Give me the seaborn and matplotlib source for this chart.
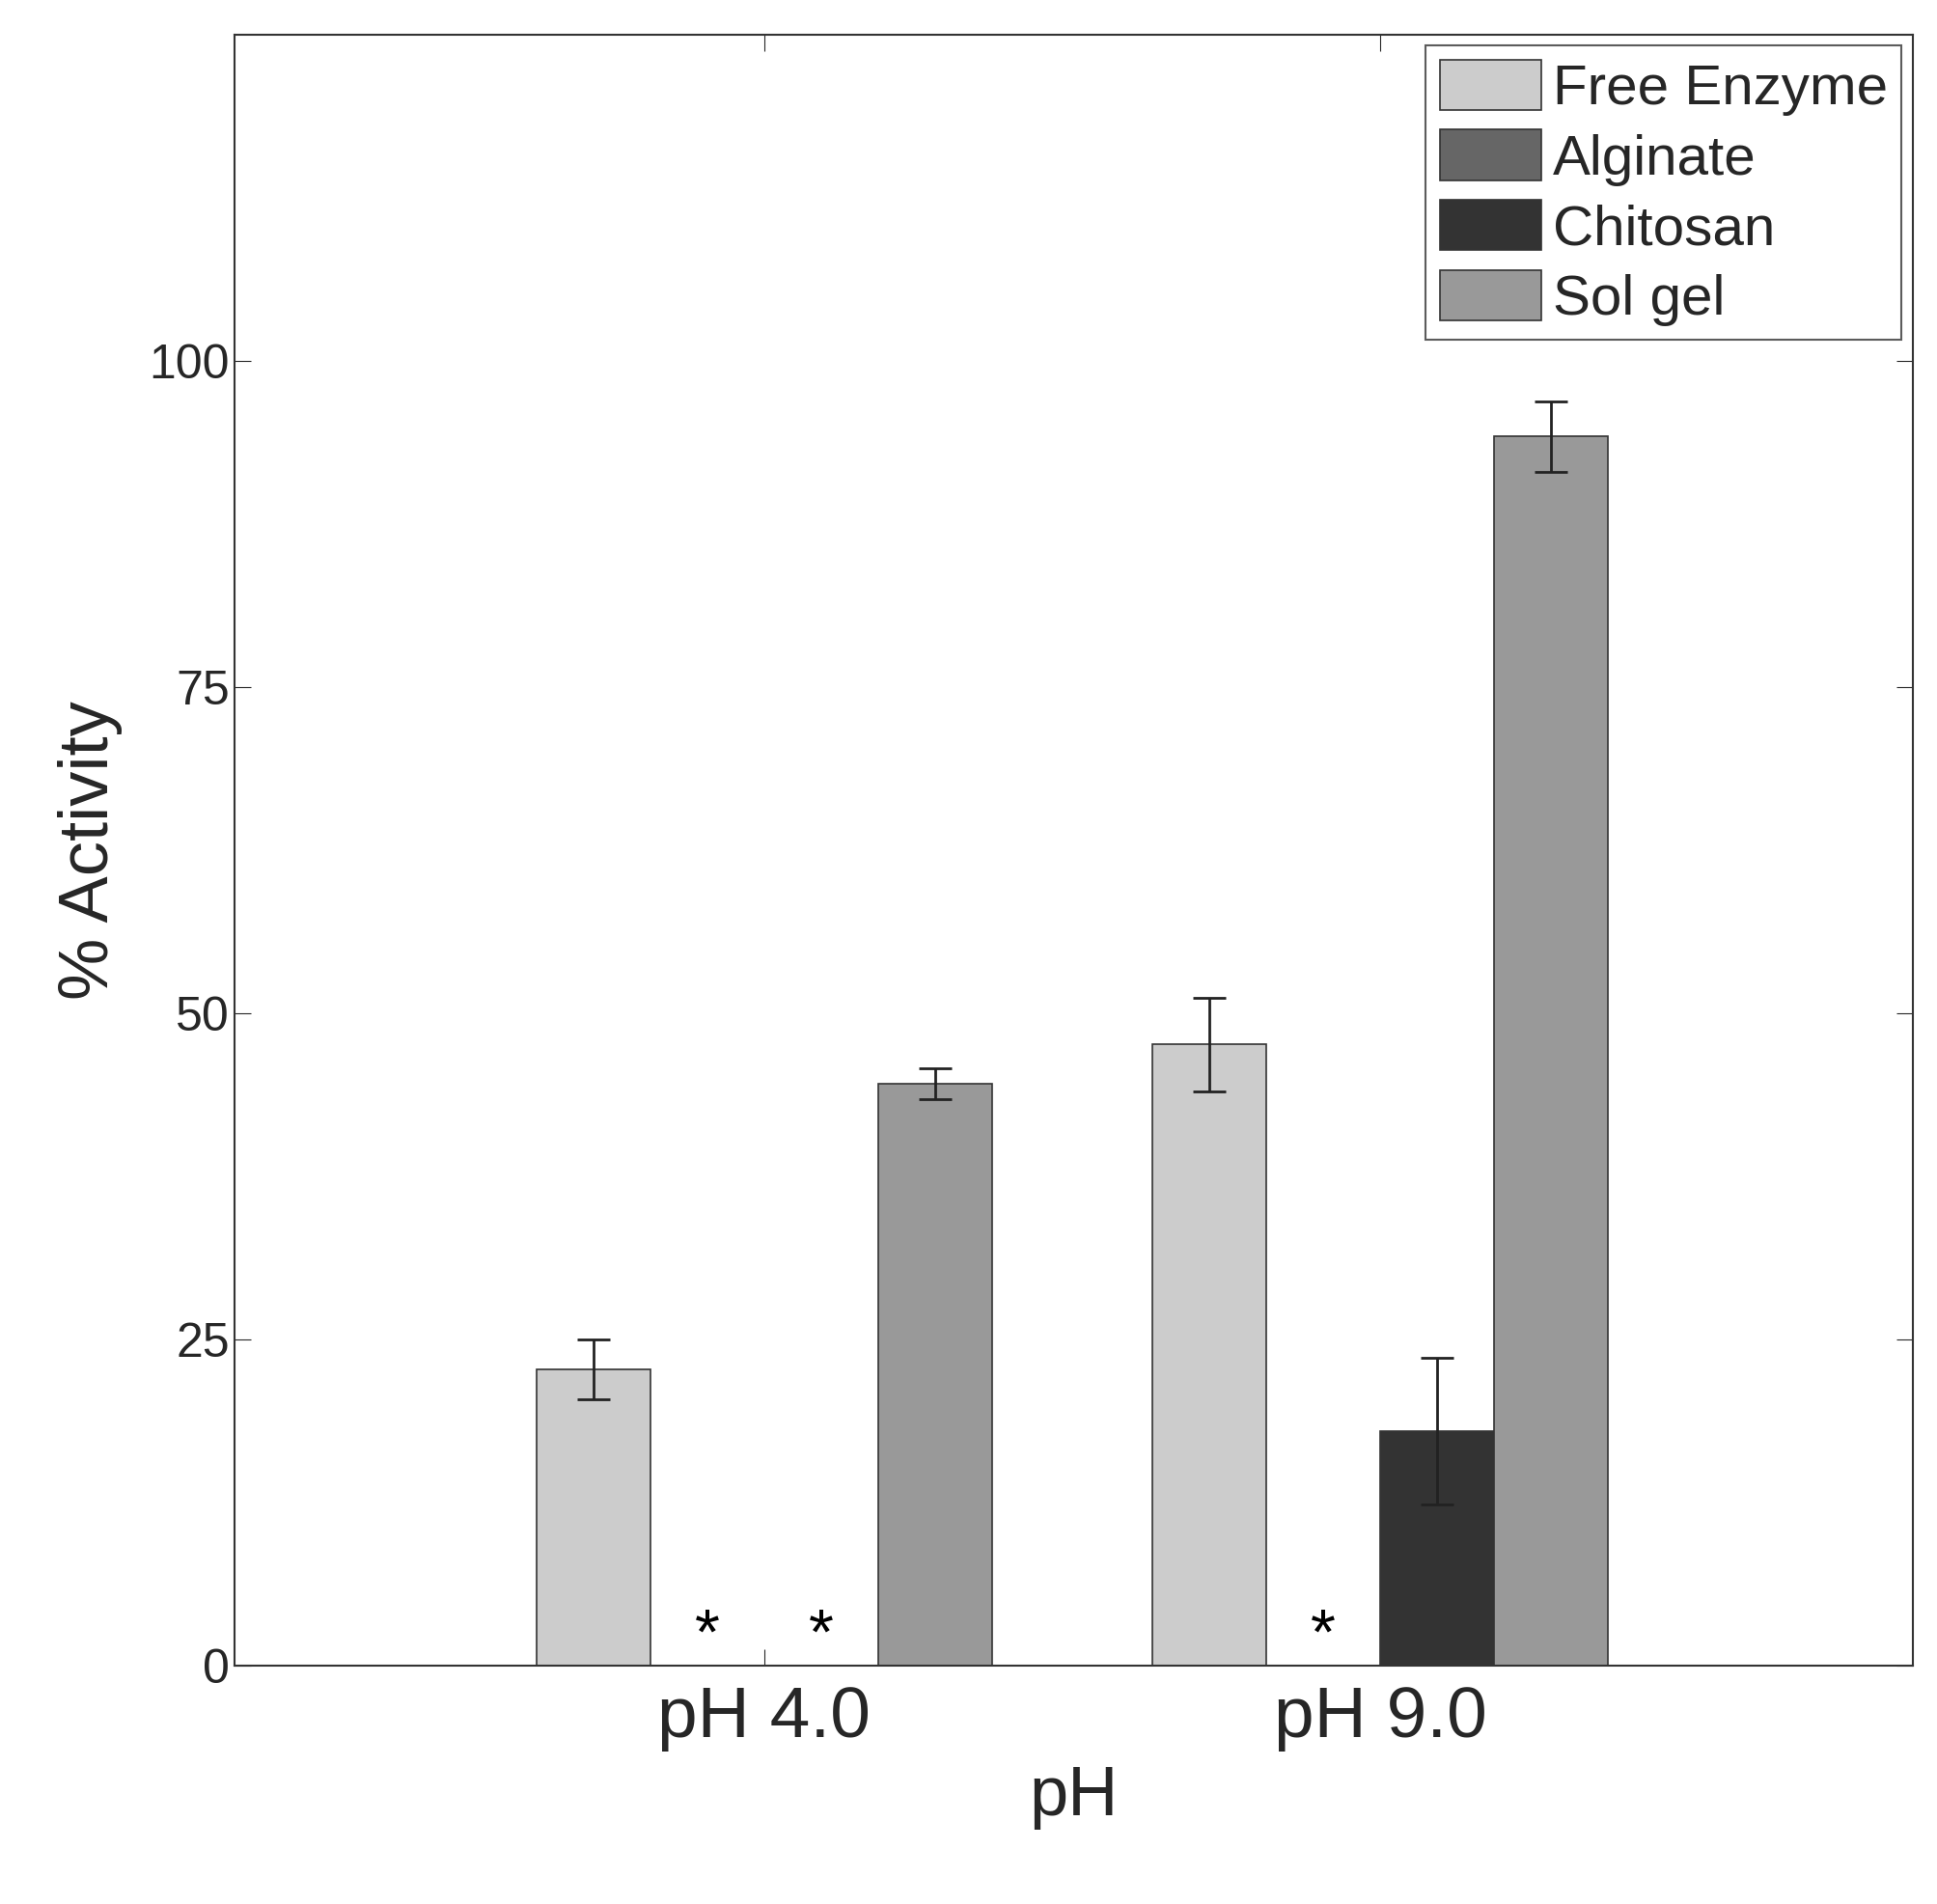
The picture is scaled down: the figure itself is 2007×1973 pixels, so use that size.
import matplotlib
matplotlib.use("Agg")
import matplotlib.pyplot as plt
import seaborn as sns
import pandas as pd
import numpy as np

groups = ["pH 4.0", "pH 9.0"]
series = ["Free Enzyme", "Alginate", "Chitosan", "Sol gel"]
values = {"Free Enzyme": [22.7, 47.6], "Alginate": [0.0, 0.0],
          "Chitosan": [0.0, 18.0], "Sol gel": [44.6, 94.2]}
errors = {"Free Enzyme": [2.3, 3.6], "Alginate": [0.0, 0.0],
          "Chitosan": [0.0, 5.6], "Sol gel": [1.2, 2.7]}
colors = ["#cccccc", "#666666", "#333333", "#999999"]

rows = [(g, s, values[s][i], errors[s][i]) for s in series for i, g in enumerate(groups)]
df = pd.DataFrame(rows, columns=["pH", "series", "val", "err"])

sns.set_style("white")
plt.rcParams['font.family'] = ['Liberation Sans', 'DejaVu Sans']
fig = plt.figure(figsize=(20.08, 19.73), dpi=100)
ax = fig.add_axes([0.121, 0.125, 0.866, 0.857])
sns.barplot(data=df, x="pH", y="val", hue="series", order=groups, hue_order=series,
            palette=colors, width=0.74, edgecolor="#333333", linewidth=1.2,
            errorbar=None, ax=ax, saturation=1)

# error bars and asterisks
patches = [p for p in ax.patches if p.get_width() > 0][:8]
k = 0
for s in series:
    for i, g in enumerate(groups):
        p = patches[k]; k += 1
        xc = p.get_x() + p.get_width() / 2
        v = values[s][i]; e = errors[s][i]
        ax.errorbar(xc, v, yerr=e, fmt="none", ecolor="#222222", elinewidth=2, capsize=12, capthick=2)
        if v == 0:
            ax.text(xc, 2.2, "*", ha="center", va="center", fontsize=48, color="black")

ax.set_xlim(-0.86, 1.865)
ax.set_ylim(0, 125)
ax.set_yticks([0, 25, 50, 75, 100])
ax.tick_params(axis="y", labelsize=36, direction="in", length=12, right=True, left=True)
ax.tick_params(axis="x", labelsize=54, direction="in", length=12, top=True, bottom=True, pad=14)
ax.set_xlabel("pH", fontsize=52, labelpad=10)
ax.set_ylabel("% Activity", fontsize=52, labelpad=20)
for sp in ax.spines.values():
    sp.set_visible(True); sp.set_color("#333333"); sp.set_linewidth(1.5)

leg = ax.legend(loc="upper right", fontsize=42, frameon=True, fancybox=False,
                edgecolor="#333333", handlelength=1.8, handleheight=1.0,
                handletextpad=0.2, borderaxespad=0.2, labelspacing=0.25, borderpad=0.25)
leg.get_frame().set_linewidth(1.5)

fig.savefig("out.png", dpi=100, facecolor="white")
